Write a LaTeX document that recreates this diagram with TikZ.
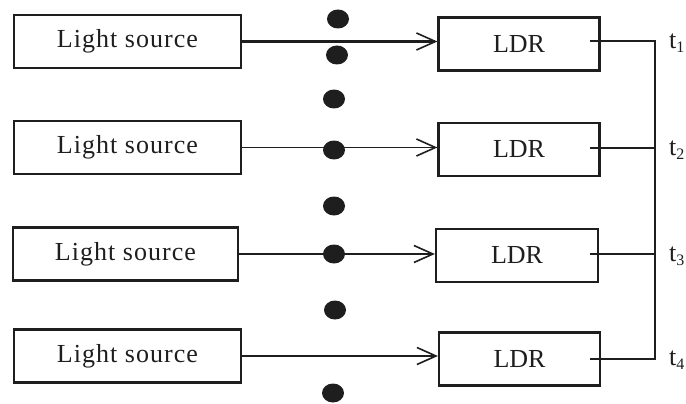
\documentclass[tikz,border=0pt]{standalone}
\usepackage{fontspec}
\setmainfont{Liberation Serif}
\newfontfamily\spacedfont[LetterSpace=4]{Liberation Serif}
\usetikzlibrary{arrows.meta,shapes.geometric}
\definecolor{ink}{HTML}{1E1E1E}
\begin{document}
\begin{tikzpicture}[x=1pt,y=-1pt,
  box/.style={draw=ink, line width=2.2pt, minimum height=53pt, inner sep=0pt,
    font=\fontsize{26}{30}\selectfont, text=ink},
  srcbox/.style={box, minimum width=227pt, font=\spacedfont\fontsize{26}{30}\selectfont},
  ldrbox/.style={box, minimum width=161pt},
  dotn/.style={ellipse, fill=ink, minimum width=22pt, minimum height=19pt, inner sep=0pt},
  feed/.style={draw=ink, line width=1.3pt, -{Straight Barb[length=19pt,width=17pt,line width=1.6pt]}},
  outl/.style={draw=ink, line width=1.6pt},
  tlab/.style={anchor=west, inner sep=0pt, text=ink, font=\fontsize{26}{30}\selectfont}
]
\useasboundingbox (0,0) rectangle (686,404);
% light sources
\node[srcbox] (s1) at (127.5,41.5) {Light source};
\node[srcbox] (s2) at (127.5,147.5) {Light source};
\node[srcbox, minimum width=225pt] (s3) at (125.5,254) {Light source};
\node[srcbox] (s4) at (127.5,356) {Light source};
% LDRs
\node[ldrbox] (l1) at (519,44) {LDR};
\node[ldrbox] (l2) at (519,149.5) {LDR};
\node[ldrbox, minimum width=162pt] (l3) at (517,255.5) {LDR};
\node[ldrbox] (l4) at (519.5,359) {LDR};
% dots
\node[dotn] (d1) at (338,19) {};
\node[dotn] (d2) at (337,55) {};
\node[dotn] (d3) at (334,99) {};
\node[dotn] (d5) at (334,206) {};
\node[dotn] (d7) at (335,310) {};
\node[dotn] (d8) at (333,393) {};
% feeds
\draw[feed, line width=2.2pt] (s1.east) -- (s1.east -| l1.west);
\draw[feed] (s2.east) -- (s2.east -| l2.west);
\draw[feed] (s3.east) -- (s3.east -| l3.west);
\draw[feed] (s4.east) -- (s4.east -| l4.west);
\node[dotn] (d4) at (334,150) {};
\node[dotn] (d6) at (334,254) {};
% outputs
\coordinate (bus1) at (655,41);
\coordinate (bus4) at (655,359);
\coordinate (o1) at (590,41);
\coordinate (o2) at (590,148);
\coordinate (o3) at (590,254);
\coordinate (o4) at (590,359);
\draw[outl, line width=2.2pt] (o1) -- (bus1) -- (bus4) -- (o4);
\draw[outl, line width=1.5pt] (o2) -- (o2 -| bus1);
\draw[outl, line width=2.2pt] (o3) -- (o3 -| bus1);
% labels
\node[tlab] (t1) at (669,43) {t\raisebox{-4pt}{\fontsize{16}{16}\selectfont 1}};
\node[tlab] (t2) at (669,150) {t\raisebox{-4pt}{\fontsize{16}{16}\selectfont 2}};
\node[tlab] (t3) at (669,256) {t\raisebox{-4pt}{\fontsize{16}{16}\selectfont 3}};
\node[tlab] (t4) at (669,360) {t\raisebox{-4pt}{\fontsize{16}{16}\selectfont 4}};
\end{tikzpicture}
\end{document}
